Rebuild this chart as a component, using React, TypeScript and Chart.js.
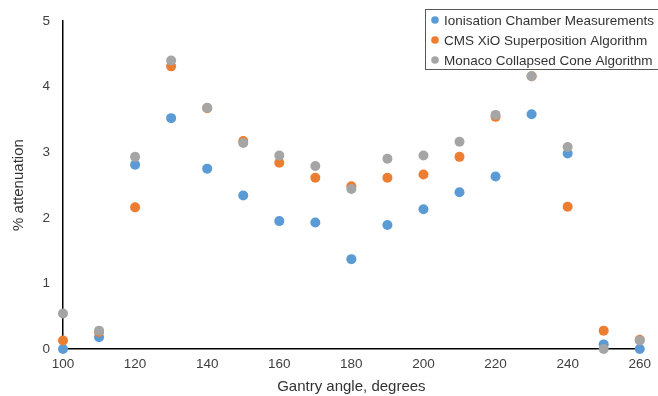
import React, { useEffect, useRef } from "react";
import { Chart, registerables } from "chart.js";

Chart.register(...registerables);

const angles = [100, 110, 120, 130, 140, 150, 160, 170, 180, 190, 200, 210, 220, 230, 240, 250, 260];
const ionisation = [0, 0.18, 2.81, 3.52, 2.75, 2.34, 1.95, 1.93, 1.37, 1.89, 2.13, 2.39, 2.63, 3.58, 2.98, 0.07, 0];
const cmsXio = [0.13, 0.26, 2.16, 4.31, 3.67, 3.17, 2.84, 2.61, 2.48, 2.61, 2.66, 2.93, 3.54, 4.16, 2.17, 0.28, 0.14];
const monaco = [0.54, 0.28, 2.93, 4.4, 3.68, 3.14, 2.95, 2.79, 2.44, 2.9, 2.95, 3.16, 3.57, 4.16, 3.08, 0, 0.13];
const seriesLabels = [
  "Ionisation Chamber Measurements",
  "CMS XiO Superposition Algorithm",
  "Monaco Collapsed Cone Algorithm",
];
const seriesColors = ["#5B9BD5", "#ED7D31", "#A5A5A5"];
const xTitle = "Gantry angle, degrees";
const yTitle = "% attenuation";

const FONT = "'Liberation Sans', Arial, sans-serif";

const boxLegend = {
  id: "boxLegend",
  afterDraw(chart: any) {
    const ctx = chart.ctx;
    ctx.save();
    const left = 425.5;
    const top = 9.5;
    const w = 240;
    const h = 60;
    ctx.fillStyle = "#ffffff";
    ctx.fillRect(left, top, w, h);
    ctx.strokeStyle = "#595959";
    ctx.lineWidth = 1;
    ctx.strokeRect(left, top, w, h);
    ctx.font = `13.5px ${FONT}`;
    ctx.textBaseline = "middle";
    ctx.textAlign = "left";
    chart.data.datasets.forEach((ds: any, i: number) => {
      const cy = 20 + i * 20;
      ctx.beginPath();
      ctx.fillStyle = ds.backgroundColor;
      ctx.arc(435, cy, 3.8, 0, Math.PI * 2);
      ctx.fill();
      ctx.fillStyle = "#333333";
      ctx.fillText(ds.label, 444, cy + 1);
    });
    ctx.restore();
  },
};

export default function App() {
  const ref = useRef<HTMLCanvasElement>(null);
  useEffect(() => {
    document.body.style.margin = "0";
    const series = [ionisation, cmsXio, monaco];
    const chart = new Chart(ref.current as HTMLCanvasElement, {
      type: "scatter",
      data: {
        datasets: series.map((vals, i) => ({
          label: seriesLabels[i],
          data: angles.map((a, j) => ({ x: a, y: vals[j] })),
          backgroundColor: seriesColors[i],
          borderColor: seriesColors[i],
          pointRadius: 5,
          pointBorderWidth: 0,
          clip: false,
          order: 2 - i,
        })),
      },
      options: {
        animation: false,
        responsive: false,
        layout: { padding: { top: 20, right: 17, left: 0, bottom: 0 } },
        plugins: { legend: { display: false }, tooltip: { enabled: false } },
        scales: {
          x: {
            type: "linear",
            min: 100,
            max: 260,
            grid: { display: false, drawTicks: false },
            border: { display: true, color: "#000000", width: 1.5 },
            ticks: { stepSize: 20, color: "#404040", font: { family: FONT, size: 13.5 }, padding: 7 },
            title: { display: true, text: xTitle, color: "#333333", font: { family: FONT, size: 15 }, padding: { top: 4, bottom: 0 } },
            afterFit(scale: any) {
              scale.height = 47;
            },
          },
          y: {
            min: 0,
            max: 5,
            grid: { display: false, drawTicks: false },
            border: { display: true, color: "#000000", width: 1.5 },
            ticks: { stepSize: 1, color: "#404040", font: { family: FONT, size: 13.5 }, padding: 13 },
            title: { display: true, text: yTitle, color: "#333333", font: { family: FONT, size: 15 }, padding: { top: 10, bottom: 0 } },
            afterFit(scale: any) {
              scale.width = 63;
            },
          },
        },
      },
      plugins: [boxLegend],
    });
    return () => chart.destroy();
  }, []);
  return (
    <div style={{ width: 658, height: 396 }}>
      <canvas ref={ref} width={658} height={396} />
    </div>
  );
}
